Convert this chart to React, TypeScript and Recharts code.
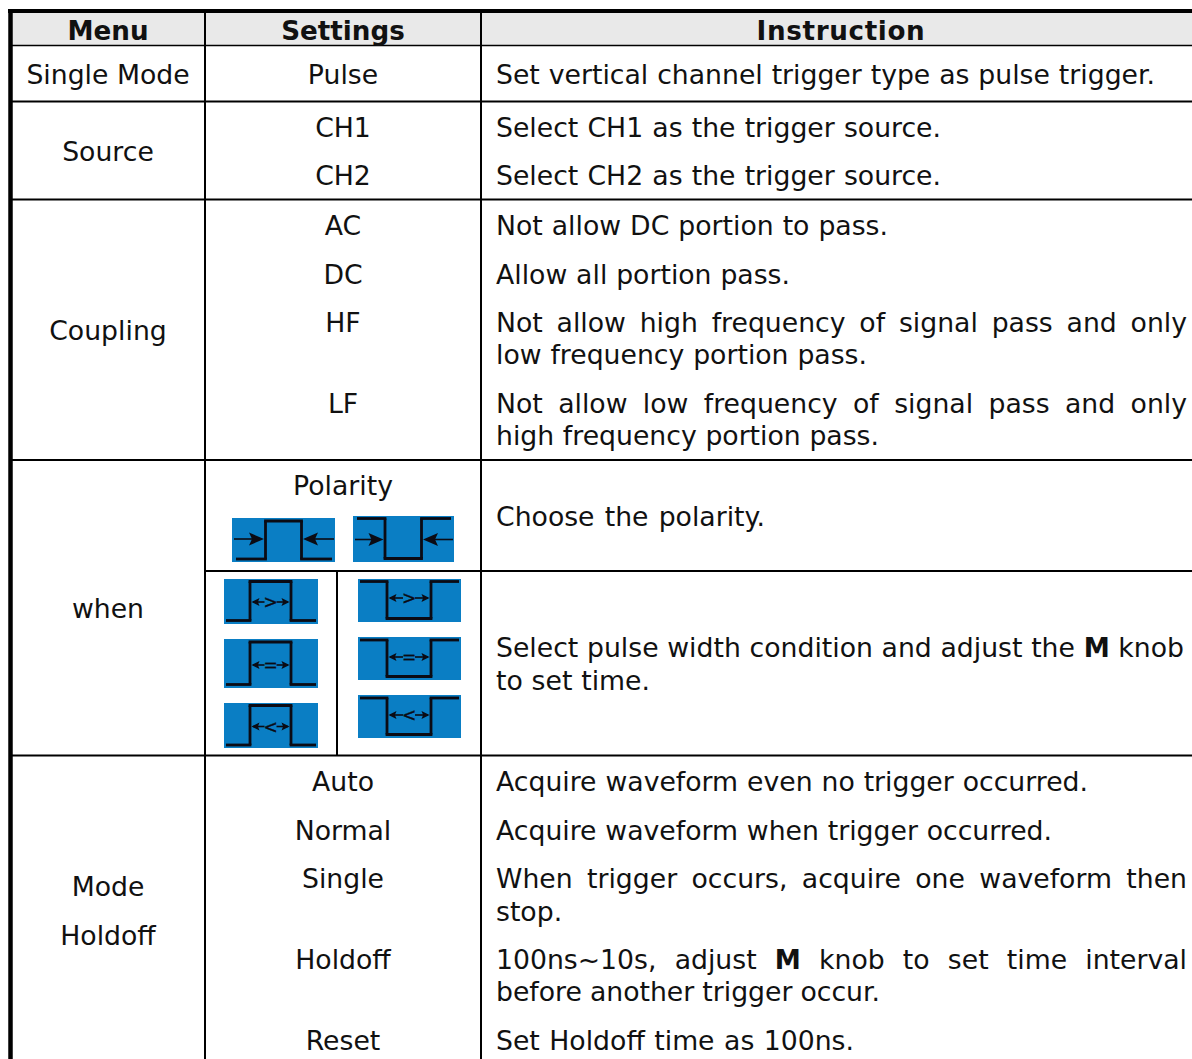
import React from "react";
import { ComposedChart, XAxis, YAxis, Scatter, ReferenceLine, ReferenceArea } from "recharts";

const W = 1192;
const H = 1059;
const FONT = "'DejaVu Sans', Verdana, sans-serif";
const SIZE = 26.7;
const BOLD_SIZE = 26.2;

// x, baseline y, text
type Cell = { x: number; y: number; text: string; width?: number; tracking?: number };

const headerCells: Cell[] = [
  { x: 108, y: 40, text: "Menu" },
  { x: 343, y: 40, text: "Settings" },
  { x: 841, y: 40, text: "Instruction", tracking: 0.65 },
];

const menuCells: Cell[] = [
  { x: 108, y: 84, text: "Single Mode" },
  { x: 108, y: 161, text: "Source" },
  { x: 108, y: 340, text: "Coupling" },
  { x: 108, y: 618, text: "when" },
  { x: 108, y: 896, text: "Mode" },
  { x: 108, y: 945, text: "Holdoff" },
];

const settingCells: Cell[] = [
  { x: 343, y: 84, text: "Pulse" },
  { x: 343, y: 137, text: "CH1" },
  { x: 343, y: 185, text: "CH2" },
  { x: 343, y: 235, text: "AC" },
  { x: 343, y: 284, text: "DC" },
  { x: 343, y: 332, text: "HF" },
  { x: 343, y: 413, text: "LF" },
  { x: 343, y: 495, text: "Polarity" },
  { x: 343, y: 791, text: "Auto" },
  { x: 343, y: 840, text: "Normal" },
  { x: 343, y: 888, text: "Single" },
  { x: 343, y: 969, text: "Holdoff" },
  { x: 343, y: 1050, text: "Reset" },
];

// *...* marks bold runs; width = fitted line width in px
const instructionCells: Cell[] = [
  { x: 496, y: 84, text: "Set vertical channel trigger type as pulse trigger.", width: 659 },
  { x: 496, y: 137, text: "Select CH1 as the trigger source.", width: 445 },
  { x: 496, y: 185, text: "Select CH2 as the trigger source.", width: 445 },
  { x: 496, y: 235, text: "Not allow DC portion to pass.", width: 392 },
  { x: 496, y: 284, text: "Allow all portion pass.", width: 294 },
  { x: 496, y: 332, text: "Not allow high frequency of signal pass and only", width: 691 },
  { x: 496, y: 364, text: "low frequency portion pass.", width: 371 },
  { x: 496, y: 413, text: "Not allow low frequency of signal pass and only", width: 691 },
  { x: 496, y: 445, text: "high frequency portion pass.", width: 383 },
  { x: 496, y: 526, text: "Choose the polarity.", width: 269 },
  { x: 496, y: 657, text: "Select pulse width condition and adjust the *M* knob", width: 688 },
  { x: 496, y: 690, text: "to set time.", width: 154 },
  { x: 496, y: 791, text: "Acquire waveform even no trigger occurred.", width: 592 },
  { x: 496, y: 840, text: "Acquire waveform when trigger occurred.", width: 556 },
  { x: 496, y: 888, text: "When trigger occurs, acquire one waveform then", width: 691 },
  { x: 496, y: 921, text: "stop.", width: 64 },
  { x: 496, y: 969, text: "100ns~10s, adjust *M* knob to set time interval", width: 691 },
  { x: 496, y: 1001, text: "before another trigger occur.", width: 384 },
  { x: 496, y: 1050, text: "Set Holdoff time as 100ns.", width: 358 },
];

// x1, y1, x2, y2, stroke width
const ruleLines: number[][] = [
  [8, 11, 1192, 11, 4],
  [10.5, 9, 10.5, 1059, 4.5],
  [205, 11, 205, 1059, 2],
  [481, 11, 481, 1059, 2],
  [10, 45.5, 1192, 45.5, 1.5],
  [10, 101.5, 1192, 101.5, 2],
  [10, 199.5, 1192, 199.5, 2],
  [10, 460, 1192, 460, 2],
  [205, 571, 1192, 571, 2],
  [337, 571, 337, 755, 2],
  [10, 755.5, 1192, 755.5, 2],
];

type Icon = {
  x0: number; x1: number; y0: number; y1: number;
  high: number; low: number; a: number; e1: number; e2: number; b: number;
  arrowY: number; startLow: boolean; sym?: string; ax0?: number; ax1?: number;
};

const polarityIcons: Icon[] = [
  { x0: 232, x1: 335, y0: 518, y1: 562, high: 521, low: 559, a: 236, e1: 265.5, e2: 301.5, b: 332, arrowY: 539, startLow: true, ax0: 234, ax1: 334 },
  { x0: 353, x1: 454, y0: 516, y1: 562, high: 518.5, low: 558.5, a: 357, e1: 385, e2: 421.5, b: 451, arrowY: 539.5, startLow: false, ax0: 355, ax1: 453 },
];

const widthIcons: Icon[] = [
  { x0: 224, x1: 318, y0: 579, y1: 624, high: 581.5, low: 620.5, a: 226, e1: 250, e2: 291, b: 316, arrowY: 602, startLow: true, sym: ">" },
  { x0: 358, x1: 461, y0: 579, y1: 622, high: 581.5, low: 618.5, a: 360, e1: 387, e2: 431, b: 459, arrowY: 598, startLow: false, sym: ">" },
  { x0: 224, x1: 318, y0: 639, y1: 688, high: 642, low: 684.5, a: 226, e1: 250, e2: 291, b: 316, arrowY: 665, startLow: true, sym: "=" },
  { x0: 358, x1: 461, y0: 637, y1: 680, high: 640, low: 676.5, a: 360, e1: 387, e2: 431, b: 459, arrowY: 657, startLow: false, sym: "=" },
  { x0: 224, x1: 318, y0: 703, y1: 748, high: 705.5, low: 745, a: 226, e1: 250, e2: 291, b: 316, arrowY: 726.5, startLow: true, sym: "<" },
  { x0: 358, x1: 461, y0: 695, y1: 738, high: 698, low: 734.5, a: 360, e1: 387, e2: 431, b: 459, arrowY: 715, startLow: false, sym: "<" },
];

const ICON_BLUE = "#0a7ec4";
const INK = "#0b0b14";

let ctx: CanvasRenderingContext2D | null = null;
function measure(text: string, bold: boolean, size: number) {
  if (!ctx) ctx = document.createElement("canvas").getContext("2d");
  if (!ctx) return 0;
  ctx.font = `${bold ? "bold " : ""}${size}px 'DejaVu Sans'`;
  return ctx.measureText(text).width;
}

function LabelShape(props: any) {
  const { cx, cy, payload, anchor, bold } = props;
  const runs: string[] = String(payload.text).split("*");
  let extra = 0;
  if (payload.width) {
    const total = runs.reduce((s, r, i) => s + measure(r, i % 2 === 1, i % 2 === 1 ? BOLD_SIZE : SIZE), 0);
    const gaps = (String(payload.text).match(/ /g) || []).length;
    if (gaps > 0) extra = (payload.width - total) / gaps;
  }
  return (
    <text x={cx} y={cy} textAnchor={anchor} fontFamily={FONT} fontSize={bold ? BOLD_SIZE : SIZE} fontWeight={bold ? 700 : 400}
      fill="#111" style={{ wordSpacing: `${extra}px`, letterSpacing: `${payload.tracking || 0}px` }} xmlSpace="preserve">
      {runs.map((r, i) => (
        <tspan key={i} fontWeight={i % 2 === 1 ? 700 : undefined} fontSize={i % 2 === 1 ? BOLD_SIZE : undefined}>{r}</tspan>
      ))}
    </text>
  );
}

function ArrowHead(props: any) {
  const { cx, cy, payload } = props;
  const d = payload.dir;
  const l = payload.len;
  const h = payload.half;
  return <path d={`M${cx} ${cy}L${cx - d * l} ${cy - h}L${cx - d * l * 0.8} ${cy}L${cx - d * l} ${cy + h}Z`} fill={INK} />;
}

function SymShape(props: any) {
  const { cx, cy, payload } = props;
  return (
    <text x={cx} y={cy + 6} textAnchor="middle" fontFamily={FONT} fontSize={17} fontWeight={400} stroke={INK} strokeWidth={0.4} fill={INK}>
      {payload.sym}
    </text>
  );
}

function iconPath(ic: Icon): number[][] {
  const s = ic.startLow ? ic.low : ic.high;
  const m = ic.startLow ? ic.high : ic.low;
  return [
    [ic.a, s, ic.e1 + 1.4, s],
    [ic.e1, s, ic.e1, m],
    [ic.e1 - 1.4, m, ic.e2 + 1.4, m],
    [ic.e2, m, ic.e2, s],
    [ic.e2 - 1.4, s, ic.b, s],
  ];
}

function seg(k: string, s: number[], w: number, color: string) {
  return (
    <ReferenceLine
      key={k}
      segment={[{ x: s[0], y: s[1] }, { x: s[2], y: s[3] }]}
      stroke={color}
      strokeWidth={w}
      ifOverflow="visible"
    />
  );
}

const allIcons = [...polarityIcons, ...widthIcons];

const arrowSegs: number[][] = [
  ...polarityIcons.flatMap((ic) => [
    [ic.ax0 as number, ic.arrowY, ic.e1 - 8, ic.arrowY],
    [ic.e2 + 8, ic.arrowY, ic.ax1 as number, ic.arrowY],
  ]),
  ...widthIcons.flatMap((ic) => {
    const mid = (ic.e1 + ic.e2) / 2;
    return [
      [ic.e1 + 3, ic.arrowY, mid - 6, ic.arrowY],
      [mid + 6, ic.arrowY, ic.e2 - 3, ic.arrowY],
    ];
  }),
];

const headPoints = [
  ...polarityIcons.flatMap((ic) => [
    { x: ic.e1 - 1.5, y: ic.arrowY, dir: 1, len: 15, half: 6.5 },
    { x: ic.e2 + 1.5, y: ic.arrowY, dir: -1, len: 15, half: 6.5 },
  ]),
  ...widthIcons.flatMap((ic) => [
    { x: ic.e1 + 1.5, y: ic.arrowY, dir: -1, len: 8, half: 4 },
    { x: ic.e2 - 1.5, y: ic.arrowY, dir: 1, len: 8, half: 4 },
  ]),
];

const symPoints = widthIcons.map((ic) => ({ x: (ic.e1 + ic.e2) / 2, y: ic.arrowY, sym: ic.sym }));

export default function App() {
  return (
    <div style={{ position: "absolute", left: 0, top: 0, width: W, height: H, background: "#fff", overflow: "hidden" }}>
      <ComposedChart width={W} height={H} margin={{ top: 0, right: 0, bottom: 0, left: 0 }} data={[]}>
        <XAxis type="number" dataKey="x" domain={[0, W]} hide allowDataOverflow />
        <YAxis type="number" dataKey="y" domain={[0, H]} reversed hide allowDataOverflow />
        <ReferenceArea x1={10} x2={W} y1={11} y2={45} fill="#e9e9e9" fillOpacity={1} stroke="none" ifOverflow="visible" />
        {allIcons.map((ic, i) => (
          <ReferenceArea key={`a${i}`} x1={ic.x0} x2={ic.x1} y1={ic.y0} y2={ic.y1} fill={ICON_BLUE} fillOpacity={1} stroke="none" ifOverflow="visible" />
        ))}
        {ruleLines.map((l, i) => seg(`r${i}`, l, l[4], "#000"))}
        {allIcons.flatMap((ic, i) => iconPath(ic).map((s, j) => seg(`w${i}-${j}`, s, 2.8, INK)))}
        {arrowSegs.map((s, i) => seg(`as${i}`, s, 1.6, INK))}
        <Scatter data={headPoints} dataKey="y" isAnimationActive={false} shape={<ArrowHead />} />
        <Scatter data={symPoints} dataKey="y" isAnimationActive={false} shape={<SymShape />} />
        <Scatter data={headerCells} dataKey="y" isAnimationActive={false} shape={<LabelShape anchor="middle" bold />} />
        <Scatter data={menuCells} dataKey="y" isAnimationActive={false} shape={<LabelShape anchor="middle" />} />
        <Scatter data={settingCells} dataKey="y" isAnimationActive={false} shape={<LabelShape anchor="middle" />} />
        <Scatter data={instructionCells} dataKey="y" isAnimationActive={false} shape={<LabelShape anchor="start" />} />
      </ComposedChart>
    </div>
  );
}
